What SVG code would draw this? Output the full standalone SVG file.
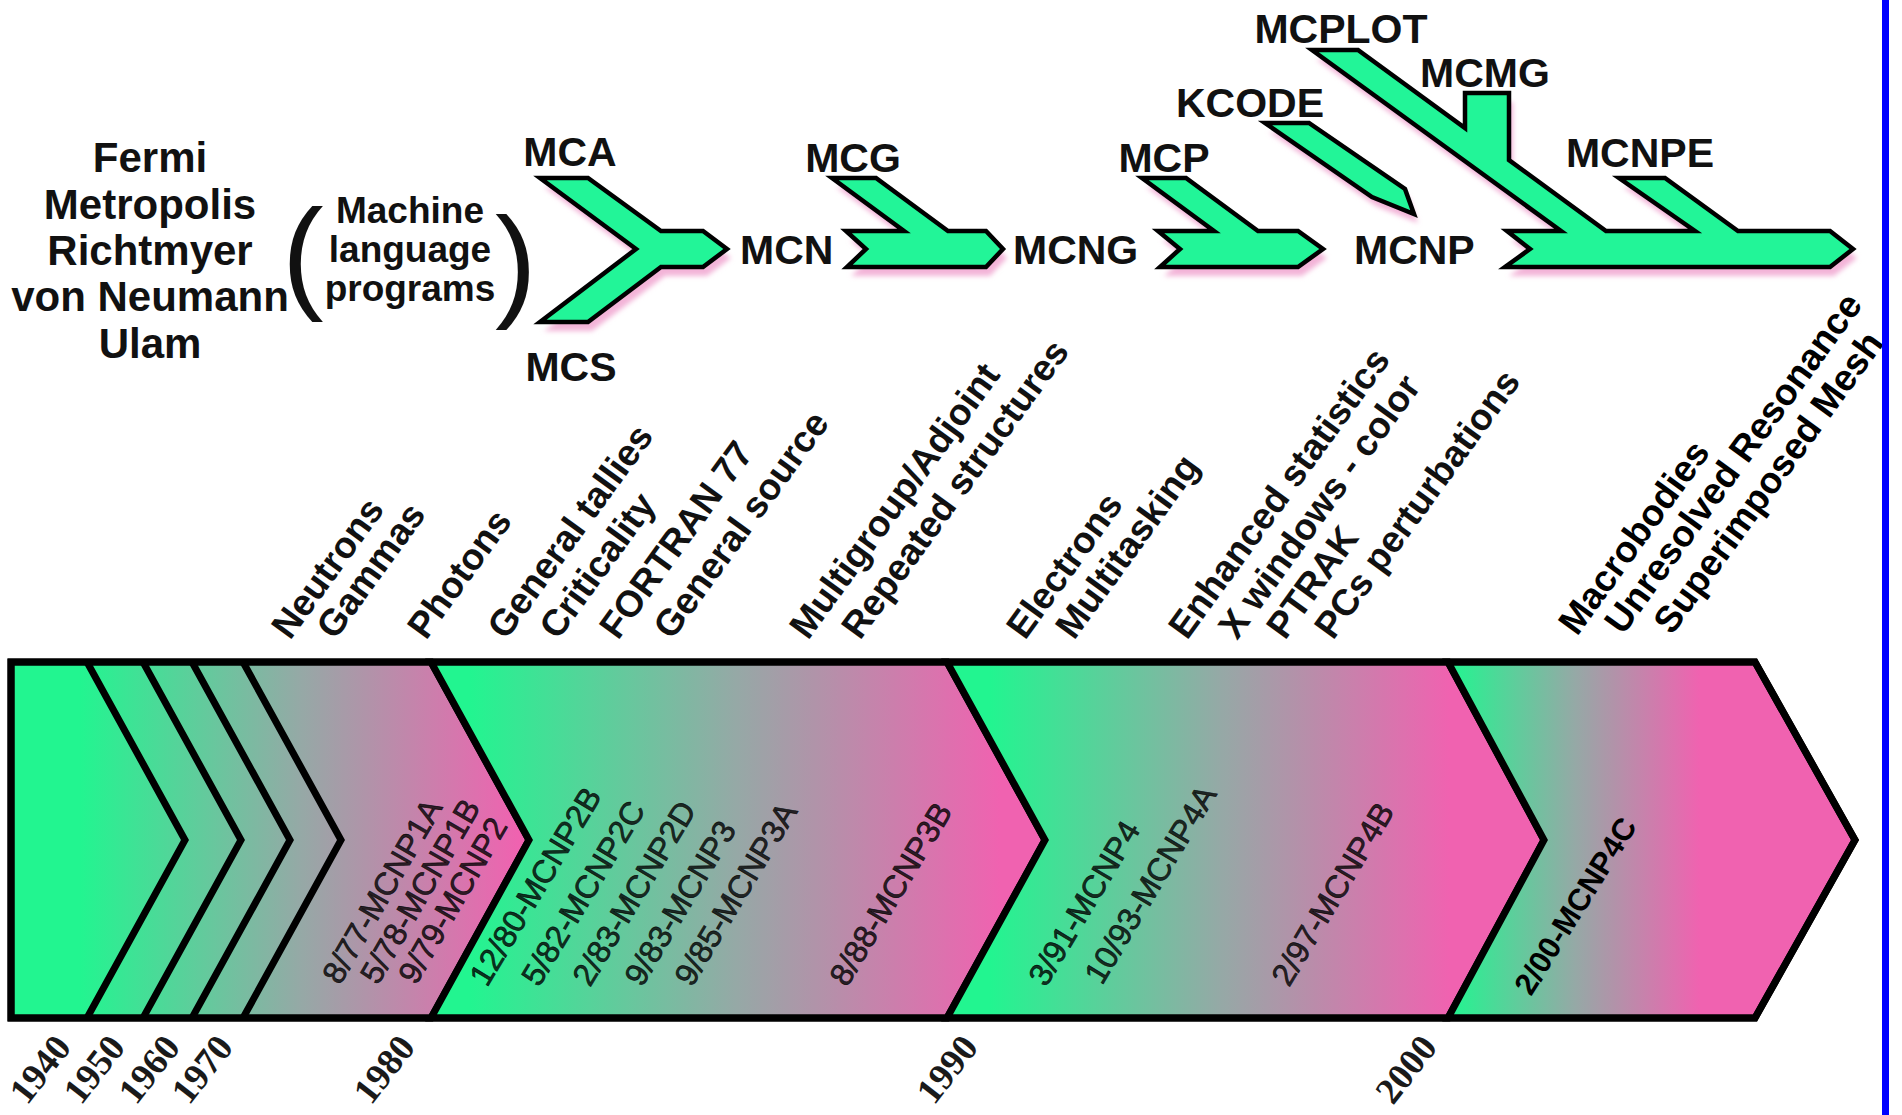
<svg xmlns="http://www.w3.org/2000/svg" width="1902" height="1115" viewBox="0 0 1902 1115">
<defs>
<style>
.nm{font-family:'Liberation Sans',Arial,sans-serif;font-weight:bold;font-size:42px;fill:#111;text-anchor:middle}
.ml{font-family:'Liberation Sans',Arial,sans-serif;font-weight:bold;font-size:37px;fill:#111;text-anchor:middle}
.par{font-family:'Liberation Sans',Arial,sans-serif;font-size:125px;fill:#111}
.lab{font-family:'Liberation Sans',Arial,sans-serif;font-weight:bold;font-size:41px;fill:#111}
.c{text-anchor:middle}
.feat{font-family:'Liberation Sans',Arial,sans-serif;font-weight:bold;font-size:37px;fill:#111}
.ar{font-family:'Liberation Sans',Arial,sans-serif;font-weight:bold;font-size:37px;fill:#000}
.ver{font-family:'Liberation Sans',Arial,sans-serif;font-size:32px;fill:#000;fill-opacity:.8;stroke:#000;stroke-opacity:.8;stroke-width:.7px}
.ver2{font-family:'Liberation Sans',Arial,sans-serif;font-weight:bold;font-size:31px;fill:#000}
.yr{font-family:'Liberation Serif','Times New Roman',serif;font-weight:bold;font-size:37px;fill:#1a1a1a}
.arrow{fill:#22f598;stroke:#000;stroke-width:4.5;stroke-linejoin:miter}
.shadow{fill:#f3b4d8;stroke:none;filter:url(#blur)}
.seg{stroke:#000;stroke-width:7;stroke-linejoin:miter}
.ln{fill:none;stroke:#000;stroke-width:7;stroke-linejoin:miter}
</style>
<filter id="blur" x="-10%" y="-10%" width="120%" height="130%"><feGaussianBlur stdDeviation="2.5"/></filter>
<linearGradient id="gA" gradientUnits="userSpaceOnUse" x1="80" y1="0" x2="520" y2="0"><stop offset="0" stop-color="#22f590"/><stop offset="0.5" stop-color="#95a9a6"/><stop offset="1" stop-color="#f062b0"/></linearGradient>
<linearGradient id="gB" gradientUnits="userSpaceOnUse" x1="470" y1="0" x2="1000" y2="0"><stop offset="0" stop-color="#22f590"/><stop offset="0.5" stop-color="#95a9a6"/><stop offset="1" stop-color="#f062b0"/></linearGradient>
<linearGradient id="gC" gradientUnits="userSpaceOnUse" x1="990" y1="0" x2="1450" y2="0"><stop offset="0" stop-color="#22f590"/><stop offset="0.5" stop-color="#95a9a6"/><stop offset="1" stop-color="#f062b0"/></linearGradient>
<linearGradient id="gD" gradientUnits="userSpaceOnUse" x1="1450" y1="0" x2="1700" y2="0"><stop offset="0" stop-color="#22f590"/><stop offset="0.5" stop-color="#95a9a6"/><stop offset="1" stop-color="#f062b0"/></linearGradient>
<path id="pA1" d="M540,178 L588,178 L661,231 L703,231 L727,249 L703,267 L661,267 L588,322 L540,322 L636,249 Z"/>
<path id="pA2" d="M832,178 L876,178 L948,231 L986,231 L1003,249 L986,267 L847,267 L866,249 L846,231 L904,231 Z"/>
<path id="pA3" d="M1142,178 L1186,178 L1258,231 L1298,231 L1323,249 L1298,267 L1160,267 L1180,249 L1158,231 L1214,231 Z"/>
<path id="pA4" d="M1265,123 L1309,123 L1405,189 L1414,214 L1372,197 Z"/>
<path id="pA5" d="M1507,231 L1561,231 L1312,50 L1358,50 L1465,128 L1465,93 L1509,93 L1509,160 L1606,231 L1695,231 L1619,178 L1665,178 L1738,231 L1830,231 L1853,249 L1830,267 L1505,267 L1530,249 Z"/>
</defs>
<rect x="0" y="0" width="1902" height="1115" fill="#fff"/>

<g id="pioneers">
<text class="nm" x="150" y="172">Fermi</text>
<text class="nm" x="150" y="219">Metropolis</text>
<text class="nm" x="150" y="265">Richtmyer</text>
<text class="nm" x="150" y="311">von Neumann</text>
<text class="nm" x="150" y="358">Ulam</text>
</g>

<g id="machine-language">
<text class="par" x="282" y="296">(</text>
<text class="ml" x="410" y="223">Machine</text>
<text class="ml" x="410" y="262">language</text>
<text class="ml" x="410" y="301">programs</text>
<text class="par" x="495" y="304">)</text>
</g>

<g id="connectors">
<g id="shadows">
<use href="#pA1" class="shadow" transform="translate(4,9)"/>
<use href="#pA2" class="shadow" transform="translate(4,9)"/>
<use href="#pA3" class="shadow" transform="translate(4,9)"/>
<use href="#pA4" class="shadow" transform="translate(4,9)"/>
<use href="#pA5" class="shadow" transform="translate(4,9)"/>
</g>
<use id="arrow-mca-mcs" href="#pA1" class="arrow"/>
<use id="arrow-mcg" href="#pA2" class="arrow"/>
<use id="arrow-mcp" href="#pA3" class="arrow"/>
<use id="arrow-kcode" href="#pA4" class="arrow"/>
<use id="arrow-mcnp" href="#pA5" class="arrow"/>
</g>

<g id="codes">
<text class="lab c" x="570" y="166">MCA</text>
<text class="lab c" x="571" y="381">MCS</text>
<text class="lab" x="740" y="264">MCN</text>
<text class="lab c" x="853" y="172">MCG</text>
<text class="lab" x="1013" y="264">MCNG</text>
<text class="lab c" x="1164" y="172">MCP</text>
<text class="lab c" x="1250" y="117">KCODE</text>
<text class="lab c" x="1341" y="43">MCPLOT</text>
<text class="lab c" x="1485" y="87">MCMG</text>
<text class="lab" x="1354" y="264">MCNP</text>
<text class="lab c" x="1640" y="167">MCNPE</text>
</g>

<g id="features">
<text class="feat" transform="translate(290,641) rotate(-54)">Neutrons</text>
<text class="feat" transform="translate(335,641) rotate(-54)">Gammas</text>
<text class="feat" transform="translate(426,641) rotate(-54)">Photons</text>
<text class="feat" transform="translate(506,641) rotate(-54)">General tallies</text>
<text class="feat" transform="translate(558,641) rotate(-54)">Criticality</text>
<text class="feat" transform="translate(618,641) rotate(-54)">FORTRAN 77</text>
<text class="feat" transform="translate(672,641) rotate(-54)">General source</text>
<text class="feat" transform="translate(808,641) rotate(-54)">Multigroup/Adjoint</text>
<text class="feat" transform="translate(860,641) rotate(-54)">Repeated structures</text>
<text class="feat" transform="translate(1025,641) rotate(-54)">Electrons</text>
<text class="feat" transform="translate(1074,641) rotate(-54)">Multitasking</text>
<text class="feat" transform="translate(1187,641) rotate(-54)">Enhanced statistics</text>
<text class="feat" transform="translate(1237,641) rotate(-54)">X windows - color</text>
<text class="feat" transform="translate(1285,641) rotate(-54)">PTRAK</text>
<text class="feat" transform="translate(1333,641) rotate(-54)">PCs perturbations</text>
<text class="ar" transform="translate(1577,637) rotate(-54)">Macrobodies</text>
<text class="ar" transform="translate(1623,636) rotate(-54)">Unresolved Resonance</text>
<text class="ar" transform="translate(1672,636) rotate(-54)">Superimposed Mesh</text>
</g>

<g id="timeline">
<polygon class="seg" fill="url(#gA)" points="11,662 431,662 529,840 431,1018 11,1018"/>
<polygon class="seg" fill="url(#gB)" points="431,662 947,662 1045,840 947,1018 431,1018 529,840"/>
<polygon class="seg" fill="url(#gC)" points="947,662 1448,662 1544,840 1448,1018 947,1018 1045,840"/>
<polygon class="seg" fill="url(#gD)" points="1448,662 1755,662 1855,840 1755,1018 1448,1018 1544,840"/>
<polyline class="ln" points="87,662 185,840 87,1018"/>
<polyline class="ln" points="143,662 241,840 143,1018"/>
<polyline class="ln" points="192,662 290,840 192,1018"/>
<polyline class="ln" points="243,662 341,840 243,1018"/>
<polygon class="ln" points="11,662 1755,662 1855,840 1755,1018 11,1018"/>
</g>

<g id="versions">
<text class="ver" transform="translate(340,986) rotate(-60)">8/77-MCNP1A</text>
<text class="ver" transform="translate(378,986) rotate(-60)">5/78-MCNP1B</text>
<text class="ver" transform="translate(416,986) rotate(-60)">9/79-MCNP2</text>
<text class="ver" transform="translate(487,988) rotate(-59)">12/80-MCNP2B</text>
<text class="ver" transform="translate(539,988) rotate(-59)">5/82-MCNP2C</text>
<text class="ver" transform="translate(590,988) rotate(-59)">2/83-MCNP2D</text>
<text class="ver" transform="translate(642,988) rotate(-59)">9/83-MCNP3</text>
<text class="ver" transform="translate(692,988) rotate(-59)">9/85-MCNP3A</text>
<text class="ver" transform="translate(847,988) rotate(-59)">8/88-MCNP3B</text>
<text class="ver" transform="translate(1046,988) rotate(-59)">3/91-MCNP4</text>
<text class="ver" transform="translate(1102,986) rotate(-59)">10/93-MCNP4A</text>
<text class="ver" transform="translate(1289,988) rotate(-59)">2/97-MCNP4B</text>
<text class="ver2" transform="translate(1531,997) rotate(-58)">2/00-MCNP4C</text>
</g>

<g id="years">
<text class="yr" transform="translate(27,1106) rotate(-52)">1940</text>
<text class="yr" transform="translate(81,1106) rotate(-52)">1950</text>
<text class="yr" transform="translate(136,1106) rotate(-52)">1960</text>
<text class="yr" transform="translate(189,1106) rotate(-52)">1970</text>
<text class="yr" transform="translate(371,1106) rotate(-52)">1980</text>
<text class="yr" transform="translate(934,1106) rotate(-52)">1990</text>
<text class="yr" transform="translate(1393,1106) rotate(-52)">2000</text>
</g>

<rect id="blue-edge" x="1882" y="0" width="7" height="1115" fill="#0000ff"/>
</svg>
